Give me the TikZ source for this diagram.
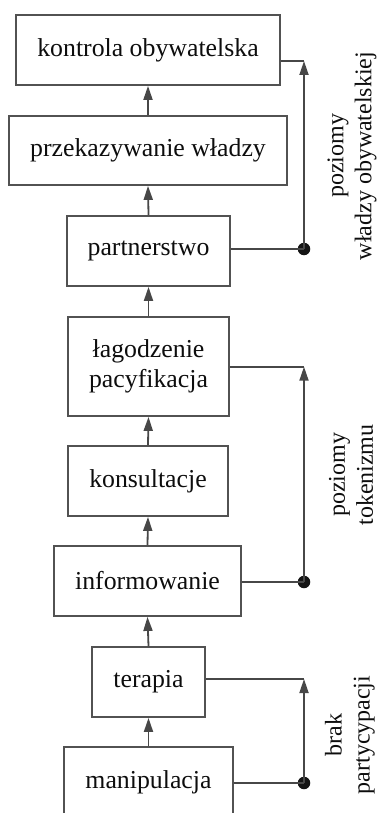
\documentclass[tikz,border=0pt]{standalone}
\usepackage{fontspec}
\setmainfont{Liberation Serif}
\usetikzlibrary{arrows.meta}
\begin{document}
\begin{tikzpicture}[x=1pt,y=-1pt,
  line width=1.8pt,
  lvl/.style={draw=black!68, fill=white, inner sep=0pt, align=center,
    text=black!95, font=\fontsize{25.8}{30}\selectfont},
  up/.style={-{Triangle[length=14pt,width=9pt]}, draw=black!72, fill=black!90},
  link/.style={draw=black!72},
  side/.style={rotate=90, align=center, inner sep=0pt, text=black!95,
    font=\fontsize{24}{28}\selectfont},
  joint/.style={circle, fill=black!92, inner sep=0pt, minimum size=12.5pt}]
\clip (0,0) rectangle (377,813);

% ladder rungs, top to bottom
\node[lvl, minimum width=264pt, minimum height=70pt] (kontrola) at (148,50) {kontrola obywatelska};
\node[lvl, minimum width=278pt, minimum height=69pt] (przekaz) at (148,150.5) {przekazywanie władzy};
\node[lvl, minimum width=163pt, minimum height=70pt] (partner) at (148.5,251) {partnerstwo};
\node[lvl, minimum width=161pt, minimum height=99pt] (lagodz) at (148.5,366.5) {łagodzenie\\pacyfikacja};
\node[lvl, minimum width=160pt, minimum height=70pt] (konsult) at (148,481) {konsultacje};
\node[lvl, minimum width=187pt, minimum height=70pt] (inform) at (147.5,581) {informowanie};
\node[lvl, minimum width=113pt, minimum height=70pt] (terapia) at (148.5,682) {terapia};
\node[lvl, minimum width=169pt, minimum height=70pt] (manip) at (148.5,782) {manipulacja};

% upward arrows between rungs
\draw[up] (manip.north) -- (terapia.south);
\draw[up] (terapia.north) -- (inform.south);
\draw[up] (inform.north) -- (konsult.south);
\draw[up] (konsult.north) -- (lagodz.south);
\draw[up] (lagodz.north) -- (partner.south);
\draw[up] (partner.north) -- (przekaz.south);
\draw[up] (przekaz.north) -- (kontrola.south);

% group brackets on the right
\coordinate (c1) at (304,61);
\node[joint] (d1) at (304,249) {};
\coordinate (c2) at (304,366.7);
\node[joint] (d2) at (304,582) {};
\coordinate (c3) at (304,679);
\node[joint] (d3) at (304,783) {};

\draw[link] (c1 -| kontrola.east) -- (c1);
\draw[link] (d1 -| partner.east) -- (d1.center);
\draw[up] (d1.center) -- (c1);

\draw[link] (c2 -| lagodz.east) -- (c2);
\draw[link] (d2 -| inform.east) -- (d2.center);
\draw[up] (d2.center) -- (c2);

\draw[link] (c3 -| terapia.east) -- (c3);
\draw[link] (d3 -| manip.east) -- (d3.center);
\draw[up] (d3.center) -- (c3);

% group labels
\node[side] (lab1) at (352,156) {poziomy\\władzy obywatelskiej};
\node[side] (lab2) at (351,475) {poziomy\\tokenizmu};
\node[side] (lab3) at (350,735) {brak\\partycypacji};
\end{tikzpicture}
\end{document}
